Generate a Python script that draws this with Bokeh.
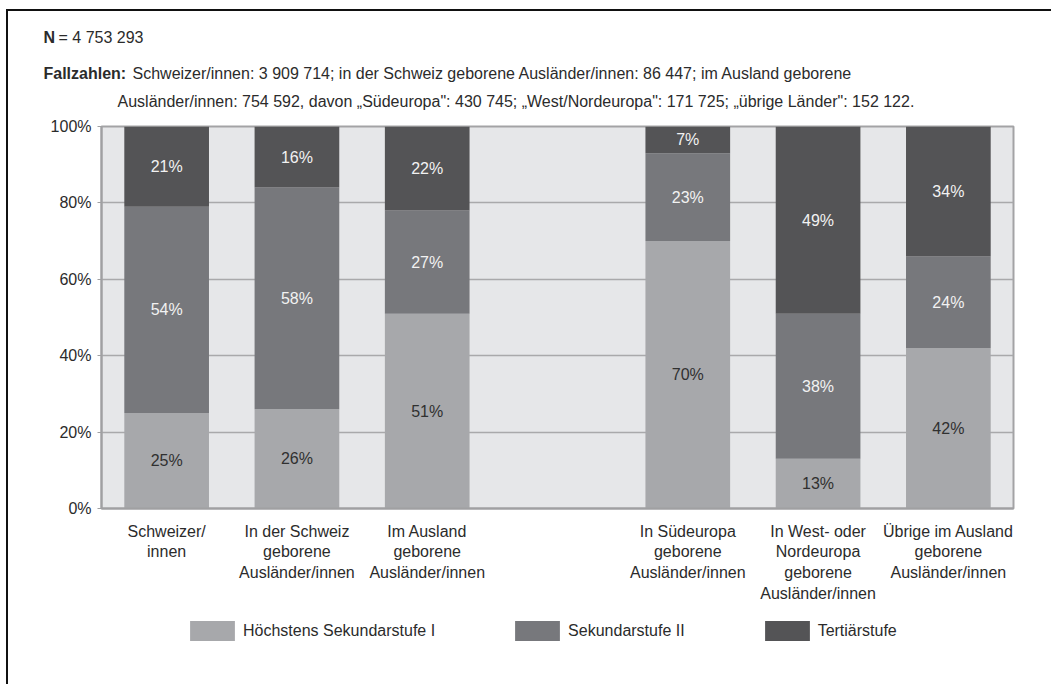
from bokeh.plotting import figure
from bokeh.layouts import column
from bokeh.models import (ColumnDataSource, FactorRange, Range1d, Legend, LegendItem, FixedTicker)
from bokeh.core.properties import value
from bokeh.embed import file_html
from bokeh.resources import INLINE

# ---------------- data ----------------
categories = [
    "Schweizer/\ninnen",
    "In der Schweiz\ngeborene\nAusländer/innen",
    "Im Ausland\ngeborene\nAusländer/innen",
    " ",
    "In Südeuropa\ngeborene\nAusländer/innen",
    "In West- oder\nNordeuropa\ngeborene\nAusländer/innen",
    "Übrige im Ausland\ngeborene\nAusländer/innen",
]
bar_categories = [c for c in categories if c.strip()]
low = [25, 26, 51, 70, 13, 42]    # Höchstens Sekundarstufe I
mid = [54, 58, 27, 23, 38, 24]    # Sekundarstufe II
high = [21, 16, 22, 7, 49, 34]    # Tertiärstufe
series_names = ["Höchstens Sekundarstufe I", "Sekundarstufe II", "Tertiärstufe"]
y_ticks = [0, 20, 40, 60, 80, 100]
header_n = ("N", "= 4 753 293")
header_f1 = ("Fallzahlen:", "Schweizer/innen: 3 909 714; in der Schweiz geborene Ausländer/innen: 86 447; im Ausland geborene")
header_f2 = "Ausländer/innen: 754 592, davon „Südeuropa\": 430 745; „West/Nordeuropa\": 171 725; „übrige Länder\": 152 122."

# ---------------- style ----------------
FONT = "Liberation Sans"
FS = "16px"
C_LOW, C_MID, C_HIGH = "#a7a8ab", "#77787c", "#545456"
COLORS = [C_LOW, C_MID, C_HIGH]
BG = "#e6e7e9"
GRID = "#a9a9ab"
TXT = "#2b2b2b"
W = 1043


def bare(fig):
    fig.xaxis.visible = False
    fig.yaxis.visible = False
    fig.grid.visible = False
    fig.outline_line_color = None
    fig.border_fill_color = "white"
    fig.background_fill_color = "white"
    return fig


# ---------------- header ----------------
HH = 103
hdr = bare(figure(width=W, height=HH, x_range=Range1d(0, W), y_range=Range1d(HH, 0),
                  output_backend="svg", toolbar_location=None, min_border=0,
                  x_axis_location=None, y_axis_location=None, frame_align=False))
for (bold, rest), ty, off in ((header_n, 26, 15), (header_f1, 62, 89)):
    hdr.text(x=[35], y=[ty], text=[bold], text_font=value(FONT), text_font_size=FS,
             text_font_style="bold", text_color=TXT, text_baseline="middle")
    hdr.text(x=[35 + off], y=[ty], text=[rest], text_font=value(FONT), text_font_size=FS,
             text_color=TXT, text_baseline="middle")
hdr.text(x=[109], y=[90], text=[header_f2], text_font=value(FONT), text_font_size=FS,
         text_color=TXT, text_baseline="middle")

# ---------------- main chart ----------------
MH = 498
p = figure(width=W, height=MH, x_range=FactorRange(factors=categories), y_range=Range1d(0, 100),
           output_backend="svg", toolbar_location=None, frame_align=False,
           min_border_left=93, min_border_right=38, min_border_top=12, min_border_bottom=104)
p.background_fill_color = BG
p.border_fill_color = "white"
p.outline_line_color = "#a3a3a5"
p.outline_line_width = 2

src = ColumnDataSource(dict(cat=bar_categories, low=low, mid=mid, high=high))
rs = p.vbar_stack(["low", "mid", "high"], x="cat", width=0.65, source=src,
                  color=COLORS, line_color=None)

lab_x, lab_y, lab_t, lab_c = [], [], [], []
for i, c in enumerate(bar_categories):
    base = 0
    for vals, col in ((low, "#303030"), (mid, "#f2f2f2"), (high, "#f2f2f2")):
        v = vals[i]
        lab_x.append(c)
        lab_y.append(base + v / 2)
        lab_t.append(f"{v}%")
        lab_c.append(col)
        base += v
p.text(x=lab_x, y=lab_y, text=lab_t, text_color=lab_c, text_align="center",
       text_baseline="middle", text_font_size=FS, text_font=value(FONT))

p.yaxis.ticker = FixedTicker(ticks=y_ticks)
p.yaxis.major_label_overrides = {t: f"{t}%" for t in y_ticks}
p.yaxis.axis_line_color = "#a0a0a2"
p.yaxis.axis_line_width = 2
p.yaxis.major_tick_line_color = "#a0a0a2"
p.yaxis.major_tick_out = 4
p.yaxis.major_tick_in = 0
p.yaxis.minor_tick_line_color = None
p.yaxis.major_label_standoff = 6
for ax in (p.xaxis, p.yaxis):
    ax.major_label_text_font = FONT
    ax.major_label_text_font_size = FS
    ax.major_label_text_color = TXT
p.xaxis.major_tick_line_color = None
p.xaxis.axis_line_color = "#a0a0a2"
p.xaxis.axis_line_width = 2
p.xaxis.major_label_standoff = 8
p.xaxis.major_label_text_line_height = 1.22
p.xgrid.grid_line_color = None
p.ygrid.grid_line_color = GRID
p.ygrid.grid_line_width = 1.5

# ---------------- legend ----------------
LH = 72
lg = bare(figure(width=W, height=LH, x_range=Range1d(0, 1), y_range=Range1d(0, 1),
                 output_backend="svg", toolbar_location=None, min_border=0,
                 x_axis_location=None, y_axis_location=None, frame_align=False))
proxies = [lg.vbar(x=[-10], top=[0], width=0.1, color=c, line_color=None) for c in COLORS]
legend = Legend(items=[LegendItem(label=n, renderers=[r]) for n, r in zip(series_names, proxies)],
                orientation="horizontal", location=(176, 41), padding=0, margin=0,
                glyph_width=56, glyph_height=25, label_standoff=3, spacing=74,
                label_text_font=FONT, label_text_font_size=FS, label_text_color=TXT,
                border_line_color=None, background_fill_alpha=0)
lg.add_layout(legend, "center")

layout = column(hdr, p, lg, spacing=0,
                styles={"margin-left": "6px", "margin-top": "9px",
                        "border-left": "2px solid #111", "border-top": "2px solid #111"})

open("out.html", "w").write(file_html(layout, INLINE))
